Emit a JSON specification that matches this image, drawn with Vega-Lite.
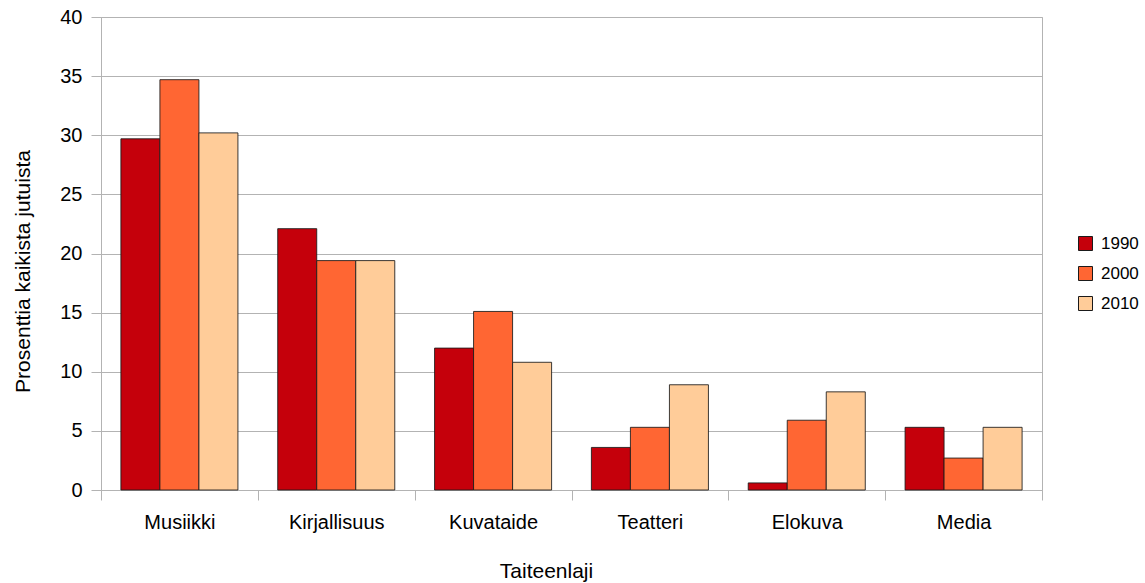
{
  "$schema": "https://vega.github.io/schema/vega-lite/v6.json",
  "autosize": {"type": "none"},
  "padding": {"left": 101, "top": 17, "right": 103, "bottom": 93},
  "width": 941,
  "height": 473,
  "background": "white",
  "config": {
    "font": "Liberation Sans",
    "view": {"stroke": "#b3b3b3", "strokeWidth": 1},
    "axis": {
      "labelFont": "Liberation Sans",
      "titleFont": "Liberation Sans",
      "labelFontSize": 20,
      "titleFontSize": 21,
      "labelColor": "#000000",
      "titleColor": "#000000",
      "titleFontWeight": "normal",
      "domainColor": "#b3b3b3",
      "tickColor": "#b3b3b3",
      "gridColor": "#b3b3b3",
      "tickSize": 10
    },
    "legend": {"labelFont": "Liberation Sans", "labelFontSize": 17, "labelColor": "#000000", "padding": 0}
  },
  "data": {
    "values": [
      {"laji": "Musiikki", "vuosi": "1990", "osuus": 29.7},
      {"laji": "Musiikki", "vuosi": "2000", "osuus": 34.7},
      {"laji": "Musiikki", "vuosi": "2010", "osuus": 30.2},
      {"laji": "Kirjallisuus", "vuosi": "1990", "osuus": 22.1},
      {"laji": "Kirjallisuus", "vuosi": "2000", "osuus": 19.4},
      {"laji": "Kirjallisuus", "vuosi": "2010", "osuus": 19.4},
      {"laji": "Kuvataide", "vuosi": "1990", "osuus": 12.0},
      {"laji": "Kuvataide", "vuosi": "2000", "osuus": 15.1},
      {"laji": "Kuvataide", "vuosi": "2010", "osuus": 10.8},
      {"laji": "Teatteri", "vuosi": "1990", "osuus": 3.6},
      {"laji": "Teatteri", "vuosi": "2000", "osuus": 5.3},
      {"laji": "Teatteri", "vuosi": "2010", "osuus": 8.9},
      {"laji": "Elokuva", "vuosi": "1990", "osuus": 0.6},
      {"laji": "Elokuva", "vuosi": "2000", "osuus": 5.9},
      {"laji": "Elokuva", "vuosi": "2010", "osuus": 8.3},
      {"laji": "Media", "vuosi": "1990", "osuus": 5.3},
      {"laji": "Media", "vuosi": "2000", "osuus": 2.7},
      {"laji": "Media", "vuosi": "2010", "osuus": 5.3}
    ]
  },
  "mark": {"type": "bar", "stroke": "#1a1a1a", "strokeWidth": 1, "strokeOpacity": 0.85},
  "encoding": {
    "x": {
      "field": "laji",
      "type": "nominal",
      "sort": ["Musiikki", "Kirjallisuus", "Kuvataide", "Teatteri", "Elokuva", "Media"],
      "scale": {"paddingInner": 0, "paddingOuter": 0},
      "axis": {
        "title": "Taiteenlaji",
        "labelAngle": 0,
        "tickBand": "extent",
        "labelPadding": 12,
        "titleX": 445,
        "titleY": 87,
        "titleAnchor": "middle",
        "titleBaseline": "alphabetic",
        "grid": false
      }
    },
    "xOffset": {"field": "vuosi", "type": "nominal", "scale": {"paddingInner": 0, "paddingOuter": 0.51}},
    "y": {
      "field": "osuus",
      "type": "quantitative",
      "scale": {"domain": [0, 40], "nice": false},
      "axis": {
        "title": "Prosenttia kaikista jutuista",
        "values": [0, 5, 10, 15, 20, 25, 30, 35, 40],
        "labelPadding": 9,
        "titleX": -78,
        "titleY": 254,
        "titleAngle": -90,
        "titleAlign": "center",
        "titleBaseline": "middle",
        "grid": true
      }
    },
    "color": {
      "field": "vuosi",
      "type": "nominal",
      "scale": {"domain": ["1990", "2000", "2010"], "range": ["#c5000b", "#ff6633", "#ffcc99"]},
      "legend": {
        "title": null,
        "orient": "none",
        "legendX": 976,
        "legendY": 218,
        "symbolType": "square",
        "symbolSize": 196,
        "symbolStrokeColor": "#1a1a1a",
        "symbolStrokeWidth": 1,
        "rowPadding": 11,
        "labelOffset": 7
      }
    }
  }
}
